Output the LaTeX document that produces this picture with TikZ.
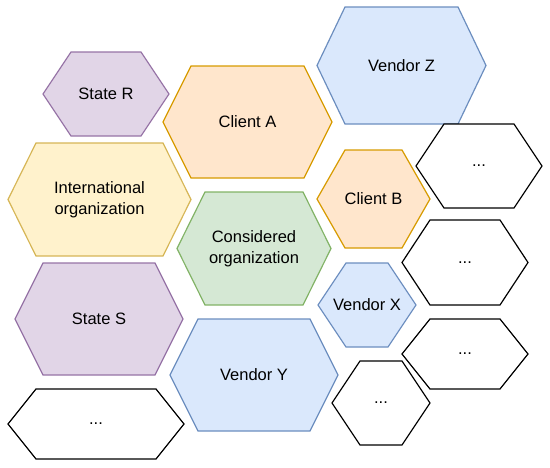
\documentclass[tikz,border=0pt]{standalone}
\usepackage{fontspec}
\setmainfont{Liberation Sans}
\definecolor{purF}{HTML}{E1D5E7}\definecolor{purD}{HTML}{9673A6}
\definecolor{orgF}{HTML}{FFE6CC}\definecolor{orgD}{HTML}{D79B00}
\definecolor{yelF}{HTML}{FFF2CC}\definecolor{yelD}{HTML}{D6B656}
\definecolor{bluF}{HTML}{DAE8FC}\definecolor{bluD}{HTML}{6C8EBF}
\definecolor{grnF}{HTML}{D5E8D4}\definecolor{grnD}{HTML}{82B366}
\newcommand\hexcell[7]{%
  \draw[hexbase,#6] (#2,{(#4+#5)/2}) -- ({#2+28},#4) -- ({#3-28},#4) -- (#3,{(#4+#5)/2}) -- ({#3-28},#5) -- ({#2+28},#5) -- cycle;
  \node[lbl] (#1) at ({(#2+#3)/2},{(#4+#5)/2}) {#7};%
}
\begin{document}
\begin{tikzpicture}[x=1pt,y=-1pt,
  hexbase/.style={line width=1.2pt, line join=miter},
  purple hex/.style={fill=purF, draw=purD},
  orange hex/.style={fill=orgF, draw=orgD},
  yellow hex/.style={fill=yelF, draw=yelD},
  blue hex/.style={fill=bluF, draw=bluD},
  green hex/.style={fill=grnF, draw=grnD},
  blank hex/.style={fill=white, draw=black},
  lbl/.style={inner sep=0pt, align=center, font=\fontsize{16.5}{20.5}\selectfont}]
\path[use as bounding box] (0,0) rectangle (550,467);
\hexcell{stateR}{43}{169}{52}{136}{purple hex}{State R}
\hexcell{clientA}{163}{332}{66}{178}{orange hex}{Client A}
\hexcell{intl}{8}{191}{143}{256}{yellow hex}{International\\organization}
\hexcell{vendorZ}{317}{486}{7}{124}{blue hex}{Vendor Z}
\hexcell{dotsA}{416}{542}{124}{208}{blank hex}{...}
\hexcell{clientB}{317}{430}{150}{248}{orange hex}{Client B}
\hexcell{considered}{177}{331}{192}{305}{green hex}{Considered\\organization}
\hexcell{dotsB}{402}{528}{220}{305}{blank hex}{...}
\hexcell{stateS}{15}{183}{263}{375}{purple hex}{State S}
\hexcell{vendorX}{318}{416}{263}{347}{blue hex}{Vendor X}
\hexcell{vendorY}{170}{338}{319}{431}{blue hex}{Vendor Y}
\hexcell{dotsC}{402}{528}{319}{389}{blank hex}{...}
\hexcell{dotsD}{332}{430}{361}{445}{blank hex}{...}
\hexcell{dotsE}{8}{184}{389}{459}{blank hex}{...}
\end{tikzpicture}
\end{document}
